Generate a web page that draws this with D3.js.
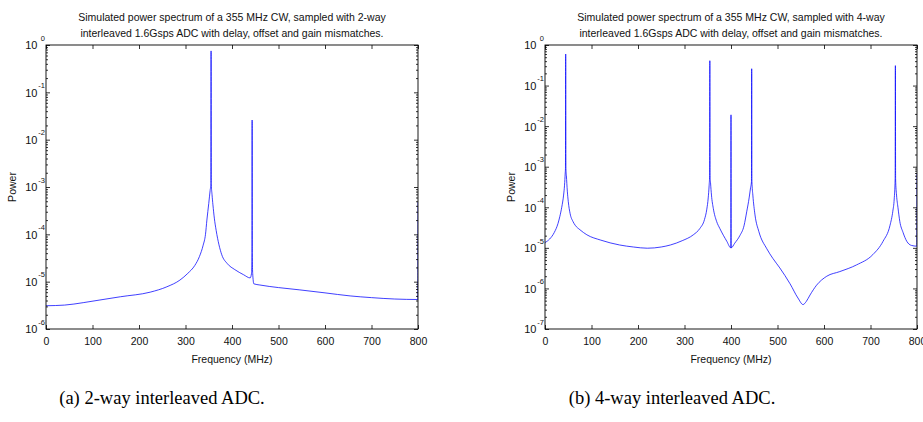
<!DOCTYPE html>
<html><head><meta charset="utf-8">
<script src="https://cdn.jsdelivr.net/npm/d3@7"></script>
<style>body{margin:0;background:#fff}svg{display:block}</style>
</head><body>
<svg id="c" width="923" height="422"></svg>
<script>
// ---- data ----
const freqTicks = [0, 100, 200, 300, 400, 500, 600, 700, 800];

// (a) 2-way interleaved ADC
const freq2  = [0, 40, 80, 116, 160, 224, 260, 288, 305, 320, 330, 338, 343, 346, 350, 353, 354.5, 355, 355.5, 357, 359, 362, 366, 372, 378, 390, 406, 425, 439, 442, 443, 443.3, 443.6, 444.5, 447, 460, 500, 546, 600, 654, 700, 750, 799.5, 800];
const power2 = [3.1e-6, 3.2e-6, 3.6e-6, 4.1e-6, 4.8e-6, 6.0e-6, 7.8e-6, 1.08e-5, 1.5e-5, 2.2e-5, 3.4e-5, 5.9e-5, 1.0e-4, 2.0e-4, 4.5e-4, 8.5e-4, 1.15e-3, 0.75, 1.15e-3, 7e-4, 4.2e-4, 2.2e-4, 1.2e-4, 6e-5, 3.7e-5, 2.4e-5, 1.8e-5, 1.4e-5, 1.2e-5, 1.5e-5, 4e-5, 2.6e-2, 4e-5, 1.5e-5, 9e-6, 8.5e-6, 7.5e-6, 6.7e-6, 5.8e-6, 5.0e-6, 4.6e-6, 4.3e-6, 4.2e-6, 4.8e-4];

// (b) 4-way interleaved ADC
const freq4  = [0, 10, 20, 28, 32, 36, 40, 42, 43.5, 44, 44.5, 45, 46, 48, 50, 54, 60, 65, 75, 90, 120, 160, 190, 220, 250, 270, 295, 319, 333, 343, 348, 351, 353, 354, 354.5, 355, 356, 358, 362, 369, 376, 391, 399.6, 399.8, 400, 400.2, 400.4, 408, 419, 428, 434, 439, 442, 444, 444.5, 445, 447, 451.6, 460, 477, 490, 505, 527, 544, 555, 562, 570, 584, 606, 634, 670, 705, 727, 742, 748, 751, 753, 753.5, 754, 756, 759, 763, 770, 778, 788, 799.5, 800];
const power4 = [1.35e-5, 1.65e-5, 2.4e-5, 4.0e-5, 6.0e-5, 1.0e-4, 2.0e-4, 3.5e-4, 7e-4, 9e-4, 0.6, 9e-4, 6e-4, 2.5e-4, 1.4e-4, 7e-5, 4.5e-5, 3.6e-5, 2.8e-5, 2.1e-5, 1.55e-5, 1.18e-5, 1.05e-5, 9.8e-6, 1.05e-5, 1.18e-5, 1.5e-5, 2.1e-5, 3.0e-5, 5e-5, 9e-5, 1.7e-4, 3.5e-4, 6e-4, 0.41, 6e-4, 4e-4, 2.0e-4, 9.3e-5, 4.5e-5, 3.0e-5, 1.45e-5, 1.0e-5, 4e-4, 1.9e-2, 4e-4, 1.0e-5, 1.3e-5, 2.0e-5, 3.5e-5, 8e-5, 1.7e-4, 3e-4, 4.3e-4, 0.26, 4.3e-4, 2e-4, 6.5e-5, 2.5e-5, 9.5e-6, 5.5e-6, 3.2e-6, 1.3e-6, 5.8e-7, 4.0e-7, 4.8e-7, 6.9e-7, 1.2e-6, 2.0e-6, 2.6e-6, 3.8e-6, 6.8e-6, 1.45e-5, 3.6e-5, 8e-5, 1.6e-4, 5e-4, 0.31, 5e-4, 2e-4, 1e-4, 4.5e-5, 2.4e-5, 1.45e-5, 1.15e-5, 1.1e-5, 6.8e-4];

const exps2 = [0, -1, -2, -3, -4, -5, -6];
const exps4 = [0, -1, -2, -3, -4, -5, -6, -7];

const title2 = ["Simulated power spectrum of a 355 MHz CW, sampled with 2-way",
                "interleaved 1.6Gsps ADC with delay, offset and gain mismatches."];
const title4 = ["Simulated power spectrum of a 355 MHz CW, sampled with 4-way",
                "interleaved 1.6Gsps ADC with delay, offset and gain mismatches."];
const captions = ["(a) 2-way interleaved ADC.", "(b) 4-way interleaved ADC."];
const xLabel = "Frequency (MHz)";
const yLabel = "Power";

// ---- drawing ----
const svg = d3.select("#c");
const FONT = "'Liberation Sans', Arial, Helvetica, sans-serif";
const FS = 10.5;
const TOP = 45, BOTTOM = 329;

function panel(id, left, right, freqs, powers, exps, title, caption, capX) {
  const g = svg.append("g");
  const x = d3.scaleLinear().domain([0, 800]).range([left, right]);
  const y = d3.scaleLog().domain([Math.pow(10, d3.min(exps)), 1]).range([BOTTOM, TOP]);
  const decades = exps.map(e => Math.pow(10, e));
  const minors = [];
  exps.forEach(e => { if (e < 0) for (let k = 2; k <= 9; k++) minors.push(k * Math.pow(10, e)); });

  svg.append("clipPath").attr("id", "clip" + id).append("rect")
    .attr("x", left).attr("y", TOP).attr("width", right - left).attr("height", BOTTOM - TOP);

  const pts = freqs.map((f, i) => [f, powers[i]]);
  g.append("path").datum(pts)
    .attr("clip-path", `url(#clip${id})`)
    .attr("fill", "none").attr("stroke", "#0000ff").attr("stroke-width", 0.75)
    .attr("d", d3.line().curve(d3.curveMonotoneX).x(d => x(d[0])).y(d => y(d[1])));

  const styleAxis = sel => {
    sel.select(".domain").remove();
    sel.selectAll("line").attr("stroke", "#000").attr("stroke-width", 0.8);
    sel.selectAll("text").attr("font-family", FONT).attr("font-size", FS).attr("fill", "#111");
  };

  g.append("g").attr("transform", `translate(0,${BOTTOM})`)
    .call(d3.axisBottom(x).tickValues(freqTicks).tickSize(-4).tickSizeOuter(0).tickPadding(9).tickFormat(d3.format("d")))
    .call(styleAxis);
  g.append("g").attr("transform", `translate(0,${TOP})`)
    .call(d3.axisTop(x).tickValues(freqTicks).tickSize(-4).tickSizeOuter(0).tickFormat(""))
    .call(styleAxis);

  const la = g.append("g").attr("transform", `translate(${left},0)`)
    .call(d3.axisLeft(y).tickValues(decades).tickSize(-4).tickSizeOuter(0).tickFormat(""))
    .call(styleAxis);
  la.selectAll(".tick").each(function(d) {
    const t = d3.select(this);
    t.append("text").attr("x", -8.5).attr("dy", "0.36em").attr("text-anchor", "end")
      .attr("font-family", FONT).attr("font-size", FS + 0.5).attr("fill", "#111").text("10");
    t.append("text").attr("x", -1).attr("y", -7).attr("dy", "0.3em").attr("text-anchor", "end")
      .attr("font-family", FONT).attr("font-size", 7.5).attr("fill", "#111")
      .text(Math.round(Math.log10(d)));
  });
  g.append("g").attr("transform", `translate(${left},0)`)
    .call(d3.axisLeft(y).tickValues(minors).tickSize(-2).tickSizeOuter(0).tickFormat(""))
    .call(styleAxis);
  g.append("g").attr("transform", `translate(${right},0)`)
    .call(d3.axisRight(y).tickValues(decades).tickSize(-4).tickSizeOuter(0).tickFormat(""))
    .call(styleAxis);
  g.append("g").attr("transform", `translate(${right},0)`)
    .call(d3.axisRight(y).tickValues(minors).tickSize(-2).tickSizeOuter(0).tickFormat(""))
    .call(styleAxis);

  g.append("rect").attr("x", left).attr("y", TOP).attr("width", right - left).attr("height", BOTTOM - TOP)
    .attr("fill", "none").attr("stroke", "#000").attr("stroke-width", 0.9);

  const cx = (left + right) / 2;
  title.forEach((t, i) => {
    g.append("text").attr("x", cx).attr("y", 20.5 + i * 16.5).attr("text-anchor", "middle")
      .attr("font-family", FONT).attr("font-size", FS).attr("fill", "#111").text(t);
  });
  g.append("text").attr("x", cx).attr("y", 363).attr("text-anchor", "middle")
    .attr("font-family", FONT).attr("font-size", FS).attr("fill", "#111").text(xLabel);
  g.append("text").attr("transform", `translate(${left - 30},${(TOP + BOTTOM) / 2}) rotate(-90)`)
    .attr("text-anchor", "middle")
    .attr("font-family", FONT).attr("font-size", FS).attr("fill", "#111").text(yLabel);
  svg.append("text").attr("x", capX).attr("y", 404).attr("text-anchor", "middle")
    .attr("font-family", "'Liberation Serif', 'Times New Roman', serif").attr("font-size", 18.5)
    .attr("fill", "#000").text(caption);
}

panel("a", 46, 418, freq2, power2, exps2, title2, captions[0], 162);
panel("b", 545, 917, freq4, power4, exps4, title4, captions[1], 672);
</script>
</body></html>
